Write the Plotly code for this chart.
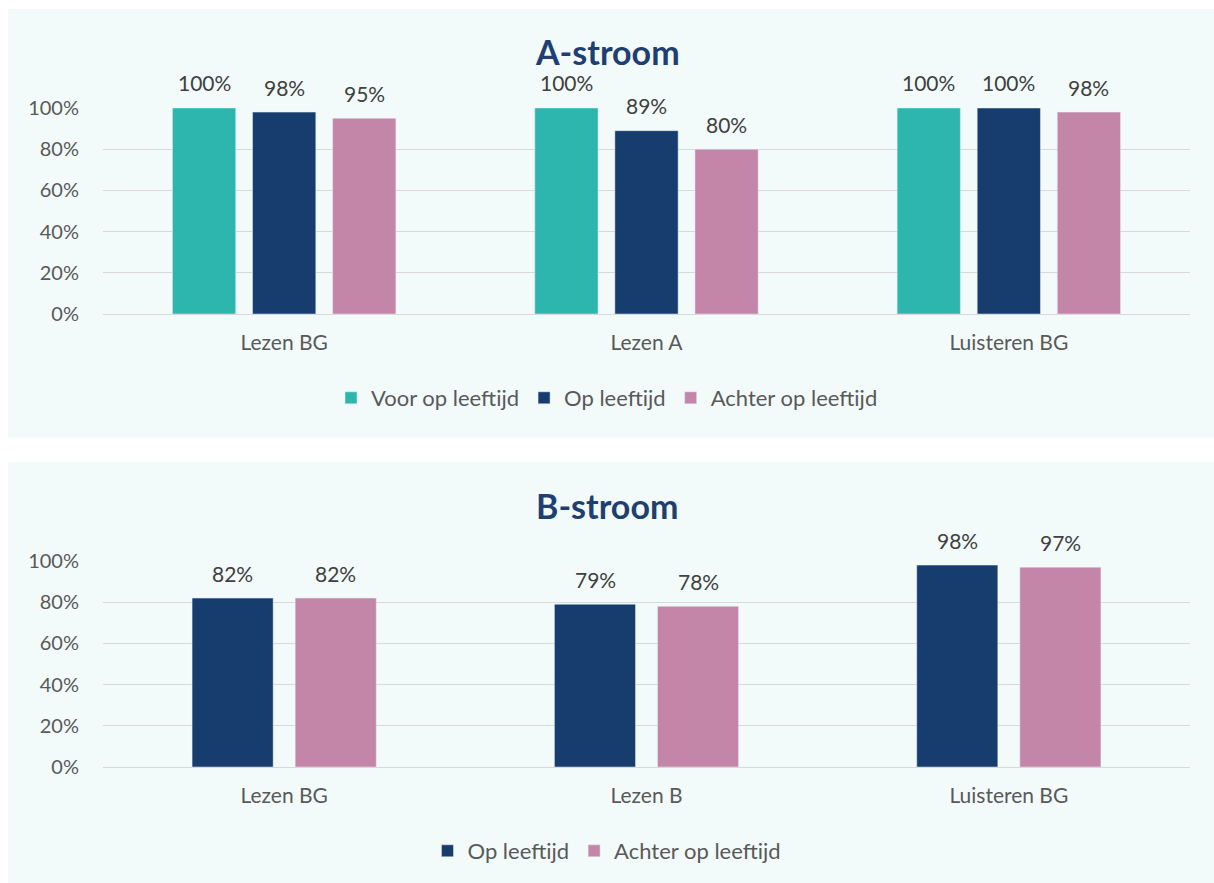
import plotly.graph_objects as go

W, H = 1214, 883

cats_a = ["Lezen BG", "Lezen A", "Luisteren BG"]
voor_a = [1.00, 1.00, 1.00]
op_a = [0.98, 0.89, 1.00]
achter_a = [0.95, 0.80, 0.98]

cats_b = ["Lezen BG", "Lezen B", "Luisteren BG"]
op_b = [0.82, 0.79, 0.98]
achter_b = [0.82, 0.78, 0.97]

tick_vals = [0, 0.2, 0.4, 0.6, 0.8, 1.0]
tick_text = ["0%", "20%", "40%", "60%", "80%", "100%"]

TEAL = "#2db6ae"
NAVY = "#173c6e"
PINK = "#c486a8"
BG = "#f2fbfa"
GRID = "#d9d9d9"
TXT = "#595959"
FONT = "Lato"

CAT_PX = 362.0  # category width in pixels

def px(x):
    return x / W

def py(y):
    return 1 - y / H

fig = go.Figure()

fig.add_bar(x=cats_a, y=voor_a, name="Voor op leeftijd", marker_color=TEAL,
            xaxis="x", yaxis="y", legend="legend", offsetgroup="a1")
fig.add_bar(x=cats_a, y=op_a, name="Op leeftijd", marker_color=NAVY,
            xaxis="x", yaxis="y", legend="legend", offsetgroup="a2")
fig.add_bar(x=cats_a, y=achter_a, name="Achter op leeftijd", marker_color=PINK,
            xaxis="x", yaxis="y", legend="legend", offsetgroup="a3")

fig.add_bar(x=cats_b, y=op_b, name="Op leeftijd", marker_color=NAVY,
            xaxis="x2", yaxis="y2", legend="legend2",
            width=81 / CAT_PX, offset=-92 / CAT_PX)
fig.add_bar(x=cats_b, y=achter_b, name="Achter op leeftijd", marker_color=PINK,
            xaxis="x2", yaxis="y2", legend="legend2",
            width=81 / CAT_PX, offset=11 / CAT_PX)

annotations = []
LBL = dict(family=FONT, size=21, color="#404040")
for series, shift in ((voor_a, -80), (op_a, 0), (achter_a, 80)):
    for c, v in zip(cats_a, series):
        annotations.append(dict(x=c, y=v, xref="x", yref="y", text=f"{round(v*100)}%",
                                showarrow=False, xshift=shift, yshift=25, yanchor="middle",
                                font=LBL))
for series, shift in ((op_b, -51.5), (achter_b, 51.5)):
    for c, v in zip(cats_b, series):
        annotations.append(dict(x=c, y=v, xref="x2", yref="y2", text=f"{round(v*100)}%",
                                showarrow=False, xshift=shift, yshift=25, yanchor="middle",
                                font=LBL))

annotations.append(dict(x=0.5, y=py(52), xref="paper", yref="paper", text="<b>A-stroom</b>",
                        showarrow=False, xanchor="center", yanchor="middle",
                        font=dict(family=FONT, size=34, color="#1f3f73")))
annotations.append(dict(x=0.5, y=py(505), xref="paper", yref="paper", text="<b>B-stroom</b>",
                        showarrow=False, xanchor="center", yanchor="middle",
                        font=dict(family=FONT, size=34, color="#1f3f73")))

shapes = [
    dict(type="rect", xref="paper", yref="paper", x0=px(8), x1=1.0, y0=py(438), y1=py(9),
         fillcolor=BG, line_width=0, layer="below"),
    dict(type="rect", xref="paper", yref="paper", x0=px(8), x1=1.0, y0=0, y1=py(462),
         fillcolor=BG, line_width=0, layer="below"),
]

xdom = [px(103), px(1190)]
yax = dict(range=[0, 1], tickvals=tick_vals, ticktext=tick_text, showgrid=True,
           gridcolor=GRID, gridwidth=1, zeroline=True, zerolinecolor=GRID, zerolinewidth=1,
           tickfont=dict(family=FONT, size=20, color=TXT), ticklabelstandoff=23,
           fixedrange=True, automargin=False)
xax = dict(showline=True, linecolor=GRID, linewidth=1, ticks="", automargin=False,
           tickfont=dict(family=FONT, size=21, color=TXT), ticklabelstandoff=10)

fig.update_layout(
    width=W, height=H,
    margin=dict(l=0, r=0, t=0, b=0, pad=0, autoexpand=False),
    paper_bgcolor="white",
    plot_bgcolor=BG,
    barmode="group",
    bargap=0.337, bargroupgap=0.21,
    showlegend=True,
    xaxis=dict(domain=xdom, anchor="y", **xax),
    yaxis=dict(domain=[py(314), py(108)], anchor="x", **yax),
    xaxis2=dict(domain=xdom, anchor="y2", **xax),
    yaxis2=dict(domain=[py(767), py(561)], anchor="x2", **yax),
    legend=dict(orientation="h", x=0.5, xanchor="center", y=py(398), yanchor="middle",
                bgcolor="rgba(0,0,0,0)", font=dict(family=FONT, size=22, color=TXT),
                itemwidth=30, itemclick=False, itemdoubleclick=False),
    legend2=dict(orientation="h", x=0.5, xanchor="center", y=py(851), yanchor="middle",
                 bgcolor="rgba(0,0,0,0)", font=dict(family=FONT, size=22, color=TXT),
                 itemwidth=30, itemclick=False, itemdoubleclick=False),
    annotations=annotations,
    shapes=shapes,
)

post = (
    "document.body.style.margin='0';document.body.style.overflow='hidden';"
    "var d=document.getElementById('{plot_id}');d.style.position='fixed';"
    "d.style.top='0';d.style.left='0';"
)

fig.write_html("out.html", post_script=post, config={"displayModeBar": False})
